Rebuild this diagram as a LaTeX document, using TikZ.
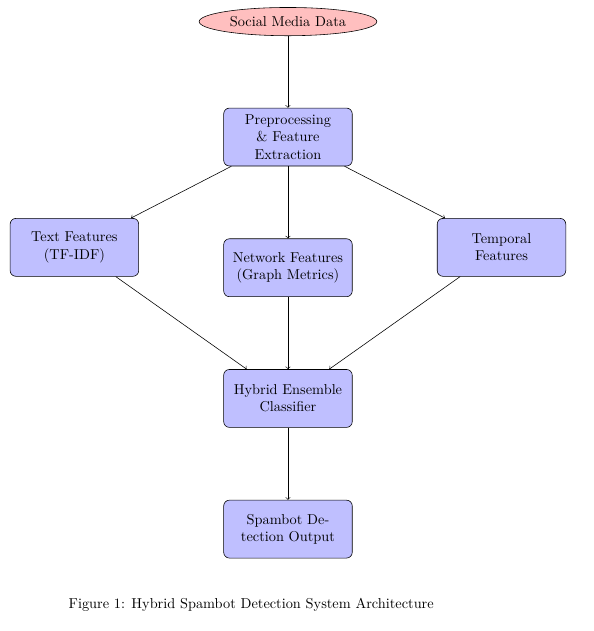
\documentclass[tikz,border=0pt]{standalone}
\usepackage{amssymb}
\usepackage{amsmath}
\usepackage{tikz}
\usetikzlibrary{shapes.geometric}
\usetikzlibrary{positioning}

\begin{document}
\begin{tikzpicture}[
   box/.style={
      draw,
      fill = blue!25,
      rounded corners,
      text width = 2.8cm,
      align = center,
      inner xsep = 5pt,
      minimum height = 1.42cm
   },
   arr/.style={->}
]
   \useasboundingbox (-7.06,3.36) rectangle (7.50,-12.11);

   \node[box] (prep) at (0,0) {Preprocessing \& Feature Extraction};

   \node[draw,ellipse,fill=red!25,above=1.76cm of prep] (data) {Social Media Data};

   \node[box,below left=1.27cm and 2.07cm of prep] (text) {Text Features (TF-IDF)};
   \node[box,below=1.77cm of prep] (net) {Network Features (Graph Metrics)};
   \node[box,below right=1.27cm and 2.07cm of prep] (temp) {Temporal Features};

   \node[box,below=1.77cm of net] (hyb) {Hybrid Ensemble Classifier};
   \node[box,below=1.77cm of hyb] (out) {Spambot Detection Output};

   \node[anchor=west] (cap) at (-5.5,-11.47) {Figure 1: Hybrid Spambot Detection System Architecture};

   \draw[arr] (data) -- (prep);
   \foreach \x in {text,net,temp}
   {
      \draw[arr] (prep) -- (\x);
      \draw[arr] (\x) -- (hyb);
   }
   \draw[arr] (hyb) -- (out);

\end{tikzpicture}
\end{document}
